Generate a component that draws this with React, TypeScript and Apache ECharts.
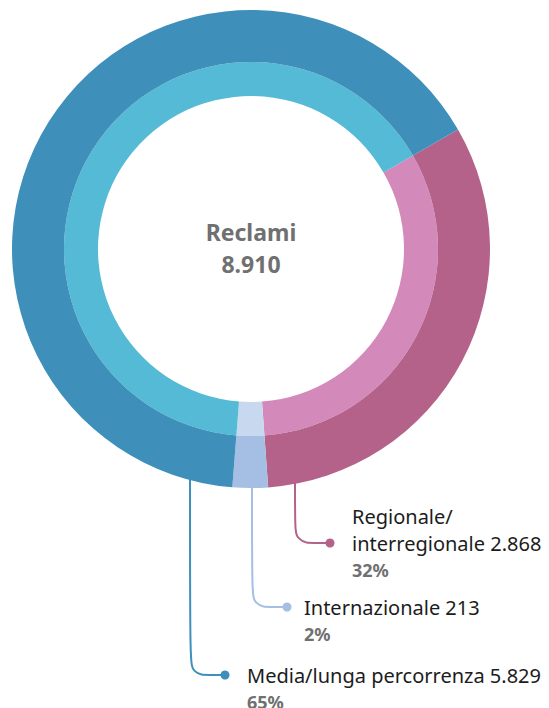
import React, { useEffect, useRef } from 'react';
import * as echarts from 'echarts';

// ---- data ----
const categories = ['Regionale/\ninterregionale', 'Internazionale', 'Media/lunga percorrenza'];
const values = [2868, 213, 5829];
const centerTitle = 'Reclami';
const outerColors = ['#b5628a', '#a4bfe3', '#3e8fba'];
const innerColors = ['#d38aba', '#c8d8ee', '#54bad5'];

// ---- layout (pixels) ----
const CX = 251;
const CY = 249;
const R_IN = 153;
const R_MID = 187;
const R_OUT = 239;
const leaderX = [295, 252, 190];
const elbowY = [543, 607, 675];
const dotX = [330, 287, 225];
const textX = [352, 304, 247];
const LINE_H = 27;

const FONT = '"Noto Sans", "Open Sans", sans-serif';

const fmt = (n: number) => String(n).replace(/\B(?=(\d{3})+(?!\d))/g, '.');

export default function App() {
  const ref = useRef<HTMLDivElement>(null);
  useEffect(() => {
    document.body.style.margin = '0';
    if (!ref.current) return;
    const chart = echarts.init(ref.current, undefined, { renderer: 'svg' });
    const total = values.reduce((a, b) => a + b, 0);
    const data = categories.map((name, i) => ({ name, value: values[i] }));

    const dots = categories.map((_, i) => ({
      type: 'circle',
      shape: { cx: dotX[i], cy: elbowY[i], r: 4.5 },
      style: { fill: outerColors[i] },
      z: 100,
      silent: true,
    }));

    chart.setOption({
      animation: false,
      textStyle: { fontFamily: FONT },
      graphic: [
        {
          type: 'text',
          x: CX,
          y: CY - 1,
          z: 100,
          style: {
            text: `${centerTitle}\n${fmt(total)}`,
            align: 'center',
            verticalAlign: 'middle',
            fontFamily: FONT,
            fontSize: 23,
            fontWeight: 'bold',
            lineHeight: 32,
            fill: '#707070',
          },
        },
        ...dots,
      ],
      series: [
        {
          type: 'pie',
          center: [CX, CY],
          radius: [R_IN, R_MID],
          startAngle: 30,
          silent: true,
          label: { show: false },
          labelLine: { show: false },
          emphasis: { disabled: true },
          data: data.map((d, i) => ({ ...d, itemStyle: { color: innerColors[i] } })),
        },
        {
          type: 'pie',
          center: [CX, CY],
          radius: [R_MID, R_OUT],
          startAngle: 30,
          silent: true,
          avoidLabelOverlap: false,
          emphasis: { disabled: true },
          data: data.map((d, i) => ({ ...d, itemStyle: { color: outerColors[i] } })),
          label: {
            show: true,
            position: 'outside',
            formatter: (p: any) =>
              `{n|${p.name} ${fmt(p.value)}}\n{p|${Math.round((p.value / total) * 100)}%}`,
            rich: {
              n: { fontFamily: FONT, fontSize: 20, color: '#1c1c1c', lineHeight: LINE_H },
              p: { fontFamily: FONT, fontSize: 18, fontWeight: 'bold', color: '#707070', lineHeight: LINE_H },
            },
          },
          labelLine: { show: true, smooth: 0.25, lineStyle: { width: 2 } },
          labelLayout: (params: any) => {
            const i = params.dataIndex;
            const nameLines = categories[i].split('\n').length;
            const dx = leaderX[i] - CX;
            const sy = CY + Math.sqrt(R_OUT * R_OUT - dx * dx) - 2;
            return {
              x: textX[i],
              y: elbowY[i] - LINE_H / 2 - (nameLines - 1) * LINE_H,
              align: 'left',
              verticalAlign: 'top',
              hideOverlap: false,
              labelLinePoints: [
                [leaderX[i], sy],
                [leaderX[i], elbowY[i]],
                [dotX[i], elbowY[i]],
              ],
            };
          },
        },
      ],
    });
    return () => chart.dispose();
  }, []);
  return <div ref={ref} style={{ width: 549, height: 708, position: 'absolute', left: 0, top: 0 }} />;
}
